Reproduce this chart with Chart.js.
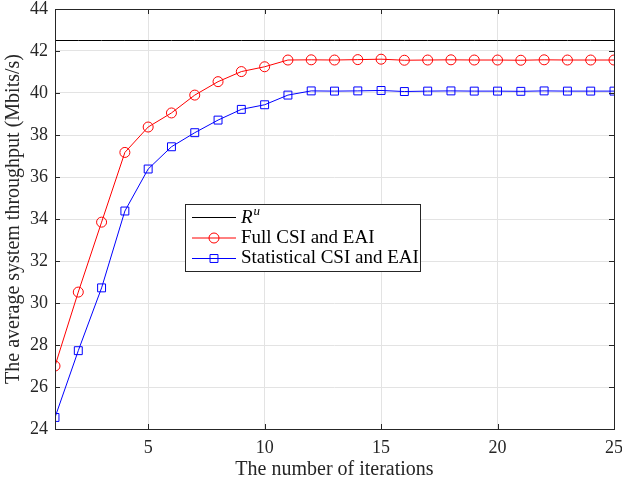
<!DOCTYPE html>
<html>
<head>
<meta charset="utf-8">
<script src="https://cdn.jsdelivr.net/npm/chart.js@4.4.1/dist/chart.umd.min.js"></script>
<style>
  html, body { margin: 0; padding: 0; background: #ffffff; }
  #wrap { width: 622px; height: 483px; }
</style>
</head>
<body>
<div id="wrap"><canvas id="throughputChart" width="622" height="483"></canvas></div>
<script>
// --- chart data ---
const iterations = [1, 2, 3, 4, 5, 6, 7, 8, 9, 10, 11, 12, 13, 14, 15, 16, 17, 18, 19, 20, 21, 22, 23, 24, 25];
const fullCsiEai = [27.0, 30.52, 33.85, 37.17, 38.38, 39.05, 39.90, 40.54, 41.02, 41.25, 41.57, 41.58, 41.57, 41.59, 41.61,
                    41.56, 41.57, 41.58, 41.57, 41.57, 41.56, 41.58, 41.57, 41.57, 41.57];
const statCsiEai = [24.55, 27.73, 30.72, 34.38, 36.38, 37.44, 38.11, 38.71, 39.22, 39.44, 39.90, 40.10, 40.09, 40.10, 40.12,
                    40.07, 40.09, 40.10, 40.09, 40.09, 40.08, 40.10, 40.09, 40.09, 40.09];
const rateUpper = 42.5; // R^u
const xTicks = [5, 10, 15, 20, 25];
const yTicks = [24, 26, 28, 30, 32, 34, 36, 38, 40, 42, 44];

const FONT = "'Liberation Serif', 'Times New Roman', serif";
const INK = '#262626';

function toPoints(ys) {
    return iterations.map(function(x, i) { return { x: x, y: ys[i] }; });
}

// Box, inward tick marks and the in-plot legend (MATLAB look)
const matlabFrame = {
    id: 'matlabFrame',
    afterDatasetsDraw: function(chart) {
        const ctx = chart.ctx;
        const a = chart.chartArea;
        const xs = chart.scales.x, ys = chart.scales.y;
        ctx.save();
        ctx.strokeStyle = INK;
        ctx.lineWidth = 1;
        ctx.strokeRect(Math.round(a.left) + 0.5, Math.round(a.top) + 0.5,
                       Math.round(a.right - a.left), Math.round(a.bottom - a.top));
        ctx.beginPath();
        xTicks.forEach(function(v) {
            const px = Math.round(xs.getPixelForValue(v)) + 0.5;
            ctx.moveTo(px, a.bottom); ctx.lineTo(px, a.bottom - 5);
            ctx.moveTo(px, a.top); ctx.lineTo(px, a.top + 5);
        });
        yTicks.forEach(function(v) {
            const py = Math.round(ys.getPixelForValue(v)) + 0.5;
            ctx.moveTo(a.left, py); ctx.lineTo(a.left + 5, py);
            ctx.moveTo(a.right, py); ctx.lineTo(a.right - 5, py);
        });
        ctx.stroke();

        // legend box
        const bx = 185.5, by = 204.5, bw = 235, bh = 67;
        ctx.fillStyle = '#ffffff';
        ctx.fillRect(bx, by, bw, bh);
        ctx.strokeStyle = INK;
        ctx.strokeRect(bx, by, bw, bh);
        const rows = [217.5, 238, 258.5];
        chart.data.datasets.forEach(function(ds, i) {
            const y = rows[i];
            ctx.strokeStyle = ds.borderColor;
            ctx.lineWidth = 1;
            ctx.beginPath();
            ctx.moveTo(192, y); ctx.lineTo(236, y);
            ctx.stroke();
            if (ds.pointRadius > 0) {
                ctx.fillStyle = 'rgba(0,0,0,0)';
                Chart.helpers.drawPoint(ctx, {
                    pointStyle: ds.pointStyle, radius: ds.pointRadius, borderWidth: 1
                }, 214, y);
            }
            ctx.fillStyle = '#000000';
            ctx.textBaseline = 'middle';
            ctx.textAlign = 'left';
            if (i === 0) {
                ctx.font = 'italic 19px ' + FONT;
                ctx.fillText('R', 241, y);
                const w = ctx.measureText('R').width;
                ctx.font = 'italic 13px ' + FONT;
                ctx.fillText('u', 241 + w + 1, y - 6);
            } else {
                ctx.font = '19px ' + FONT;
                ctx.fillText(ds.label, 241, y);
            }
        });
        ctx.restore();
    }
};

new Chart(document.getElementById('throughputChart'), {
    type: 'line',
    data: {
        datasets: [{
            label: 'R^u',
            data: iterations.map(function(x) { return { x: x, y: rateUpper }; }),
            borderColor: '#000000',
            borderWidth: 1,
            pointRadius: 0
        }, {
            label: 'Full CSI and EAI',
            data: toPoints(fullCsiEai),
            borderColor: '#ff0000',
            backgroundColor: 'rgba(0,0,0,0)',
            borderWidth: 1,
            pointStyle: 'circle',
            pointRadius: 5,
            pointBorderWidth: 1
        }, {
            label: 'Statistical CSI and EAI',
            data: toPoints(statCsiEai),
            borderColor: '#0000ff',
            backgroundColor: 'rgba(0,0,0,0)',
            borderWidth: 1,
            pointStyle: 'rect',
            pointRadius: 5.6,
            pointBorderWidth: 1
        }]
    },
    options: {
        responsive: false,
        animation: false,
        events: [],
        layout: { padding: 0 },
        plugins: {
            legend: { display: false },
            tooltip: { enabled: false }
        },
        scales: {
            x: {
                type: 'linear',
                min: 1,
                max: 25,
                afterBuildTicks: function(scale) {
                    scale.ticks = xTicks.map(function(v) { return { value: v }; });
                },
                afterFit: function(scale) {
                    scale.height = 54;
                    scale.paddingLeft = 0;
                    scale.paddingRight = 8;
                },
                grid: { color: '#e3e3e3', drawTicks: false },
                border: { display: false },
                ticks: {
                    padding: 8,
                    maxRotation: 0,
                    color: INK,
                    font: { family: FONT, size: 18 }
                },
                title: {
                    display: true,
                    text: 'The number of iterations',
                    color: INK,
                    padding: { top: 0, bottom: 1 },
                    font: { family: FONT, size: 20 }
                }
            },
            y: {
                min: 24,
                max: 44,
                afterBuildTicks: function(scale) {
                    scale.ticks = yTicks.map(function(v) { return { value: v }; });
                },
                afterFit: function(scale) {
                    scale.width = 55;
                    scale.paddingTop = 9;
                    scale.paddingBottom = 0;
                },
                grid: { color: '#e3e3e3', drawTicks: false },
                border: { display: false },
                ticks: {
                    padding: 7,
                    color: INK,
                    font: { family: FONT, size: 18 }
                },
                title: {
                    display: true,
                    text: 'The average system throughput (Mbits/s)',
                    color: INK,
                    padding: { top: 2, bottom: 0 },
                    font: { family: FONT, size: 20 }
                }
            }
        }
    },
    plugins: [matlabFrame]
});
</script>
</body>
</html>
